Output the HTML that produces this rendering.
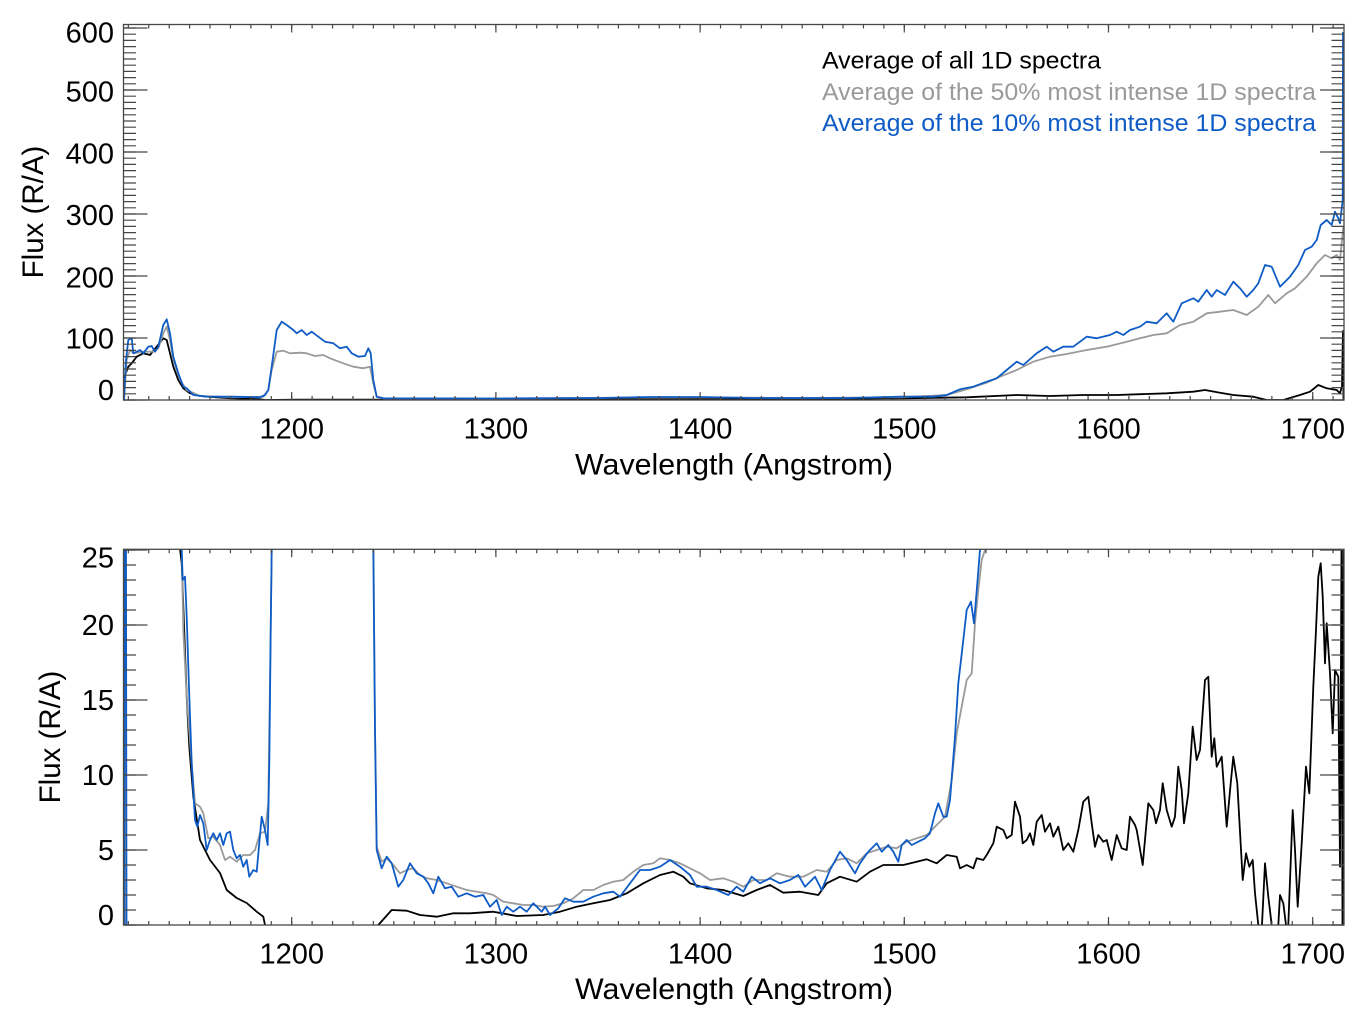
<!DOCTYPE html>
<html>
<head>
<meta charset="utf-8">
<style>
  html, body { margin:0; padding:0; background:#ffffff; }
  body { width:1365px; height:1022px; overflow:hidden; }
  svg { display:block; }
  text { font-family: "Liberation Sans", Arial, Helvetica, sans-serif; }
</style>
</head>
<body>
<svg width="1365" height="1022" viewBox="0 0 1365 1022" xmlns="http://www.w3.org/2000/svg">
  <defs>
    <clipPath id="c1"><rect x="123.5" y="24.5" width="1220.5" height="375.5"/></clipPath>
    <clipPath id="c2"><rect x="123.5" y="549.3" width="1220.5" height="375.7"/></clipPath>
  </defs>
  <rect x="0" y="0" width="1365" height="1022" fill="#ffffff"/>

  <!-- ================= TOP PANEL ================= -->
  <g clip-path="url(#c1)" fill="none" stroke-linejoin="round">
    <!-- black: average of all -->
    <polyline stroke="#000000" stroke-width="1.8" points="124,378 128.3,366.7 131.7,363.3 136.7,356.7 143.3,353.3 150,355 156.7,346.7 163.3,338.3 166.7,340 170,353.3 173.3,366.7 178.3,380 183.3,388.3 190,393.3 200,396 216.7,397.3 233.3,398.3 260,399.3 265,400 300,399.6 400,399.6 500,399.5 600,399.4 700,399 800,399.4 900,398.3 966.7,397.3 1016.7,395 1050,396 1083.3,395 1116.7,395 1166.7,393.3 1193.3,391.7 1205,390 1220,392.7 1233.3,395 1253.3,396.7 1266.7,400 1283.3,400 1300,395 1310,391.7 1318.3,385 1326.7,388.3 1336.7,390 1340,393.3 1342,386 1343,331 1343.5,400"/>
    <!-- gray: 50% -->
    <polyline stroke="#9a9a9a" stroke-width="1.8" points="124,400 126.7,360 130,350 133.3,353.3 143.3,351.7 153.3,351.7 158.3,348.3 163.3,333.3 166.7,326.7 170,340 173.3,360 180,380 186.7,390 200,396 233.3,397.3 263.3,396.7 268.3,390 271.7,370 276.7,351.7 283.3,350.7 290,353.3 300,352.7 306.7,353.3 315,356 323.3,355 330,358.3 343.3,363.3 353.3,366.7 363.3,368.3 370,366.7 373.3,383.3 376.7,396.7 383.3,398.3 500,398.5 650,397.5 700,397.3 800,398 900,397.3 946.7,395 966.7,389.3 986.7,382.7 1000,376.7 1016.7,370 1033.3,361.7 1050,356.7 1066.7,354 1086.7,350 1106.7,346.7 1126.7,341.7 1140,338.3 1153.3,335 1166.7,333.3 1180,325 1193.3,321.7 1206.7,313.3 1220,311.7 1233.3,310 1246.7,315 1258.3,306.7 1268.3,295 1275,303.3 1286.7,293.3 1295,288.3 1306.7,276.7 1316.7,263.3 1325,255 1331.7,258.3 1336.7,255 1340,260 1343.3,226.7"/>
    <!-- blue: 10% -->
    <polyline stroke="#0f5cc6" stroke-width="1.8" points="124,400 126,360 128.3,340 131.7,338.3 133.3,353.3 136.7,351.7 140,350 143.3,353.3 148.3,346.7 151.7,346 155,351.7 158.3,346.7 163.3,325 166.7,319.3 170,333.3 173.3,356.7 178.3,373.3 183.3,386.7 186.7,388.3 193.3,395 206.7,396.7 233.3,396.7 260,397.3 265,395 268.3,390 271.7,366.7 276.7,330 281.7,321.7 286.7,325 293.3,330 296.7,333.3 301.7,330 306.7,335 311.7,331.7 318.3,336.7 325,341.7 333.3,343.3 340,348.3 346.7,346.7 351.7,353.3 358.3,356.7 365,356 368.3,348.3 370.7,353.3 373.3,380 376.7,396.7 383.3,398.3 500,398.5 600,398 650,397 700,397 750,398 850,398 900,396.7 933.3,396.7 946.7,395 960,389.3 973.3,386.7 986.7,381.7 996.7,378.3 1006.7,370 1016.7,361.7 1023.3,365 1036.7,353.3 1046.7,346.7 1053.3,351.7 1063.3,346.7 1073.3,346.7 1086.7,336.7 1096.7,338.3 1110,335 1116.7,331.7 1123.3,335 1130,330 1140,326.7 1146.7,321.7 1156.7,323.3 1166.7,313.3 1173.3,321.7 1181.7,303.3 1193.3,298.3 1198.3,301.7 1206.7,290 1211.7,296.7 1216.7,290 1225,295 1233.3,281.7 1240,288.3 1246.7,296.7 1253.3,290 1258.3,283.3 1265,265 1271.7,266.7 1280,286.7 1290,276.7 1298.3,265 1305,250 1311.7,246.7 1316.7,240 1320.7,225 1326.7,220 1331.7,225 1335,211.7 1338.3,218.3 1340,223.3 1342.7,200 1343,32"/>
  </g>

  <!-- top panel frame and ticks -->
  <g stroke="#474747" fill="none">
    <rect x="123.5" y="24.5" width="1220.5" height="375.5" stroke-width="1.3"/>
    <!-- y minor left/right -->
    <line x1="129.75" y1="400.6" x2="129.75" y2="24.5" stroke-width="12.5" stroke-dasharray="1.2 5"/>
    <line x1="1337.75" y1="400.6" x2="1337.75" y2="24.5" stroke-width="12.5" stroke-dasharray="1.2 5"/>
    <!-- y major left/right -->
    <line x1="135.5" y1="400.6" x2="135.5" y2="24.5" stroke-width="24" stroke-dasharray="1.2 60.8"/>
    <line x1="1332" y1="400.6" x2="1332" y2="24.5" stroke-width="24" stroke-dasharray="1.2 60.8"/>
    <!-- x minor bottom/top -->
    <line x1="127.74" y1="398" x2="1344" y2="398" stroke-width="4" stroke-dasharray="1.2 19.22"/>
    <line x1="127.74" y1="26.5" x2="1344" y2="26.5" stroke-width="4" stroke-dasharray="1.2 19.22"/>
    <!-- x major bottom/top -->
    <line x1="291.1" y1="396" x2="1344" y2="396" stroke-width="8" stroke-dasharray="1.2 203"/>
    <line x1="291.1" y1="28.5" x2="1344" y2="28.5" stroke-width="8" stroke-dasharray="1.2 203"/>
  </g>

  <!-- top panel labels -->
  <g font-size="29" fill="#000" text-anchor="end">
    <text x="114" y="42.3">600</text>
    <text x="114" y="101.7">500</text>
    <text x="114" y="163.3">400</text>
    <text x="114" y="225">300</text>
    <text x="114" y="287.3">200</text>
    <text x="114" y="348.3">100</text>
    <text x="114" y="400">0</text>
  </g>
  <g font-size="29" fill="#000" text-anchor="middle">
    <text x="291.7" y="438.5">1200</text>
    <text x="495.9" y="438.5">1300</text>
    <text x="700.1" y="438.5">1400</text>
    <text x="904.3" y="438.5">1500</text>
    <text x="1108.5" y="438.5">1600</text>
    <text x="1312.7" y="438.5">1700</text>
  </g>
  <text x="575" y="474.3" font-size="29.5" textLength="318" lengthAdjust="spacingAndGlyphs" fill="#000">Wavelength (Angstrom)</text>
  <text transform="translate(43,212) rotate(-90)" text-anchor="middle" font-size="29.5" fill="#000">Flux (R/A)</text>

  <!-- legend -->
  <text x="822" y="68.3" font-size="24.5" textLength="279" lengthAdjust="spacingAndGlyphs" fill="#000000">Average of all 1D spectra</text>
  <text x="822" y="100" font-size="24.5" textLength="494" lengthAdjust="spacingAndGlyphs" fill="#9a9a9a">Average of the 50% most intense 1D spectra</text>
  <text x="822" y="131" font-size="24.5" textLength="494" lengthAdjust="spacingAndGlyphs" fill="#0f5cc6">Average of the 10% most intense 1D spectra</text>

  <!-- ================= BOTTOM PANEL ================= -->
  <g clip-path="url(#c2)" fill="none" stroke-linejoin="round">
    <!-- black -->
    <polyline stroke="#000000" stroke-width="1.8" points="124,540 124.5,935"/>
    <polyline stroke="#000000" stroke-width="1.8" points="179.5,540 180,549 181.7,563 186.7,696.7 189.3,746.7 193.3,796.7 200,840 210,860 220,873 226.7,890 236.7,898 246.7,903 256.7,911.7 263.3,916.7 265,925 266,940"/>
    <polyline stroke="#000000" stroke-width="1.8" points="377,940 378.3,925 391.7,910 406.7,910.7 420,915 436.7,916.7 453.3,913.3 470,913.3 493.3,911.7 516.7,916 543.3,915 560,911.7 576.7,906.7 593.3,903.3 610,900 626.7,893.3 643.3,883.3 660,875 673.3,871.7 683.3,876.7 690,883.3 706.7,888.3 723.3,890 743.3,896 756.7,890 770,885 783.3,892.7 800,891.7 818.3,895 826.7,883.3 840,876.7 856.7,881.7 870,871.7 883.3,865 903.3,865 916.7,861.7 926.7,859.3 936.7,863.3 946.7,855 956.7,856.7 960,868.3 966.7,865 973.3,868.3 976.7,858.3 983.3,860 986.7,855 993.3,843.3 996.7,826.7 1003.3,830 1006.7,838.3 1011.7,835 1015,801.7 1020,816.7 1022.7,843.3 1026.7,840 1030,833.3 1033.3,845 1036.7,821.7 1041.7,815 1045,831.7 1050,823.3 1053.3,836.7 1058.3,826.7 1063.3,850 1068.3,843.3 1073.3,851.7 1078.3,830 1083.3,801.7 1088.3,796.7 1091.7,823.3 1095,846.7 1098.3,835 1103.3,841.7 1106.7,840 1111.7,860 1116.7,835 1121.7,848.3 1126.7,850 1130,816.7 1135,825 1136.7,830 1142.7,865 1148.3,803.3 1153.3,810 1156,823.3 1160,810 1162.7,783.3 1166.7,810 1171.7,826.7 1175,816.7 1178.3,766.7 1181.7,790 1184,823.3 1188.3,793.3 1192.7,726.7 1196.7,760 1200,750 1205,680 1208.3,676.7 1211.7,756.7 1214.3,738.3 1216.7,766.7 1221.7,756.7 1226.7,826.7 1230.7,783.3 1233.3,756.7 1237.3,783.3 1240,831.7 1242.7,880 1246,853.3 1249.3,866.7 1252.7,860 1255,893.3 1258.3,925 1261,945 1265,863.3 1268.3,896.7 1271.7,925 1275,940 1278.3,925 1280,895 1283.3,903.3 1286,925 1287,940 1288.3,925 1292.7,810 1295,850 1297.7,906.7 1301.7,843.3 1306,766.7 1309.3,793.3 1313.3,686.7 1316,630 1318.3,576.7 1320.7,563.3 1322.7,596.7 1325,663.3 1326.7,623.3 1330,673.3 1332.7,733.3 1335,670 1338.3,676.7 1340,866.7 1341.5,549 1342.5,925 1343.5,549"/>
    <!-- gray -->
    <polyline stroke="#9a9a9a" stroke-width="1.8" points="125,935 125.5,540"/>
    <polyline stroke="#9a9a9a" stroke-width="1.8" points="181.5,540 182,560 183.3,630 186.7,696.7 191.7,763.3 195,803.3 200,806.7 203.3,813.3 208.3,838.3 213.3,836.7 220,845 225,860 230,856.7 236.7,861.7 243.3,855 250,855 255,850 260,833.3 265,831.7 268.3,803.3 270.7,630 271.7,550 272,540"/>
    <polyline stroke="#9a9a9a" stroke-width="1.8" points="373.3,540 373.5,550 375,730 376.7,846.7 381.7,861.7 386.7,858.3 393.3,865 400,873.3 406.7,870 413.3,868.3 420,875 426.7,878.3 436.7,880 446.7,883.3 456.7,886.7 466.7,890 476.7,891.7 486.7,893.3 493.3,895 503.3,901.7 513.3,903.3 523.3,905 533.3,905 543.3,906.7 553.3,906 563.3,903.3 573.3,898.3 583.3,890 593.3,890 603.3,885 613.3,881.7 623.3,880 633.3,871.7 643.3,865 653.3,863.3 660,858.3 670,860 680,863.3 690,868.3 700,873.3 710,880 723.3,878.3 733.3,881.7 743.3,886.7 753.3,880 766.7,880 776.7,873.3 790,876.7 803.3,876.7 816.7,870 826.7,871.7 836.7,860 846.7,858.3 856.7,863.3 866.7,853.3 876.7,850 886.7,846.7 896.7,848.3 906.7,841.7 916.7,838.3 926.7,835 936.7,825 945,816.7 951.7,780 956.7,733.3 961.7,706.7 966.7,680 971.7,673.3 975,623.3 978.3,590 981.7,560 985,550 986,540"/>
    <!-- blue -->
    <polyline stroke="#0f5cc6" stroke-width="1.8" points="124,935 124.5,540 126,540 126.5,935"/>
    <polyline stroke="#0f5cc6" stroke-width="1.8" points="181,540 181.7,550 182.7,580 185,576.7 186.7,616.7 189.3,696.7 191.7,763.3 195,820 197.3,826.7 200,815 203.3,823.3 206.7,850 210,840 213.3,833.3 216.7,840 220,833.3 223.3,845 226.7,833.3 230,831.7 233.3,850 236.7,858.3 240,855 243.3,866.7 246.7,860 249.3,876.7 253.3,870 256.7,871.7 261.7,816.7 265,830 267.7,845 269.3,763.3 270.7,630 271.7,550 272,540"/>
    <polyline stroke="#0f5cc6" stroke-width="1.8" points="373.3,540 373.3,550 375,730 376.7,850 381.7,868.3 386.7,856.7 391.7,863.3 398.3,886.7 403.3,880 410,863.3 416.7,873.3 423.3,876.7 428.3,883.3 433.3,893.3 438.3,876.7 445,888.3 451.7,886.7 458.3,896.7 466.7,893.3 475,896.7 483.3,895 490,906.7 496.7,900 501.7,915 506.7,906.7 513.3,911.7 520,906.7 526.7,911.7 533.3,903.3 541.7,911.7 545,906.7 550,915 558.3,908.3 565,898.3 573.3,901.7 583.3,901.7 593.3,896.7 603.3,893.3 613.3,891.7 620,896.7 630,883.3 640,870 650,870 660,866.7 670,860 680,866.7 690,875 696.7,886.7 706.7,886.7 716.7,890 728.3,895 736.7,886.7 743.3,891.7 751.7,876.7 760,883.3 770,878.3 780,883.3 790,880 798.3,875 805,886.7 815,876.7 821.7,890 830,870 840,851.7 846.7,860 855,873.3 860,863.3 868.3,851.7 876.7,843.3 881.7,851.7 888.3,845 893.3,851.7 898.3,861.7 901.7,845 906.7,840 911.7,845 918.3,841.7 925,838.3 930,833.3 935,813.3 938.3,803.3 943.3,816.7 946.7,816.7 950,800 955,736.7 958.3,683.3 963.3,640 966.7,610 971,601.7 974,623.3 977.3,583.3 980,550 981,540"/>
  </g>

  <!-- bottom panel frame and ticks -->
  <g stroke="#474747" fill="none">
    <rect x="123.5" y="549.3" width="1220.5" height="375.7" stroke-width="1.3"/>
    <line x1="129.75" y1="925.6" x2="129.75" y2="549.3" stroke-width="12.5" stroke-dasharray="1.2 13.8"/>
    <line x1="1337.75" y1="925.6" x2="1337.75" y2="549.3" stroke-width="12.5" stroke-dasharray="1.2 13.8"/>
    <line x1="135.5" y1="925.6" x2="135.5" y2="549.3" stroke-width="24" stroke-dasharray="1.2 73.8"/>
    <line x1="1332" y1="925.6" x2="1332" y2="549.3" stroke-width="24" stroke-dasharray="1.2 73.8"/>
    <line x1="127.74" y1="923" x2="1344" y2="923" stroke-width="4" stroke-dasharray="1.2 19.22"/>
    <line x1="127.74" y1="551.3" x2="1344" y2="551.3" stroke-width="4" stroke-dasharray="1.2 19.22"/>
    <line x1="291.1" y1="921" x2="1344" y2="921" stroke-width="8" stroke-dasharray="1.2 203"/>
    <line x1="291.1" y1="553.3" x2="1344" y2="553.3" stroke-width="8" stroke-dasharray="1.2 203"/>
  </g>

  <!-- bottom panel labels -->
  <g font-size="29" fill="#000" text-anchor="end">
    <text x="114" y="567.3">25</text>
    <text x="114" y="635">20</text>
    <text x="114" y="710">15</text>
    <text x="114" y="785">10</text>
    <text x="114" y="860">5</text>
    <text x="114" y="925">0</text>
  </g>
  <g font-size="29" fill="#000" text-anchor="middle">
    <text x="291.7" y="963.3">1200</text>
    <text x="495.9" y="963.3">1300</text>
    <text x="700.1" y="963.3">1400</text>
    <text x="904.3" y="963.3">1500</text>
    <text x="1108.5" y="963.3">1600</text>
    <text x="1312.7" y="963.3">1700</text>
  </g>
  <text x="575" y="999" font-size="29.5" textLength="318" lengthAdjust="spacingAndGlyphs" fill="#000">Wavelength (Angstrom)</text>
  <text transform="translate(60,737) rotate(-90)" text-anchor="middle" font-size="29.5" fill="#000">Flux (R/A)</text>
</svg>
</body>
</html>
